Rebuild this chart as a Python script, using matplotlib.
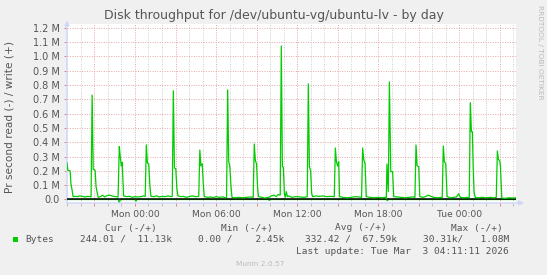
import numpy as np
import matplotlib
matplotlib.use("Agg")
import matplotlib.pyplot as plt
from matplotlib.patches import Rectangle
from matplotlib.ticker import FixedLocator

# hours relative to Mon 00:00, write throughput in MB/s (positive side)
write_t = [-5.03, -4.97, -4.80, -4.74, -4.66, -4.58, -4.40, -4.25, -4.10, -3.90, -3.70, -3.50, -3.30, -3.25,
           -3.17, -3.09, -2.95, -2.88, -2.80, -2.72, -2.55, -2.40, -2.25, -2.05, -1.85, -1.60, -1.40, -1.25,
           -1.16, -1.09, -1.01, -0.95, -0.90, -0.84, -0.60, -0.40, -0.20, 0.00, 0.20, 0.45, 0.60, 0.76,
           0.84, 0.92, 1.02, 1.10, 1.18, 1.40, 1.60, 1.80, 2.00, 2.20, 2.45, 2.65, 2.76,
           2.84, 2.92, 3.02, 3.10, 3.18, 3.40, 3.60, 3.80, 4.00, 4.25, 4.50, 4.72,
           4.80, 4.88, 4.98, 5.05, 5.13, 5.40, 5.60, 5.80, 6.00, 6.25, 6.50, 6.70, 6.78,
           6.86, 6.94, 7.02, 7.10, 7.18, 7.40, 7.70, 8.00, 8.30, 8.55, 8.75,
           8.83, 8.91, 9.00, 9.07, 9.14, 9.40, 9.60, 9.90, 10.10, 10.30, 10.45, 10.60, 10.75,
           10.83, 10.91, 10.98, 11.06, 11.12, 11.20, 11.28, 11.40, 11.60, 11.90, 12.20, 12.50, 12.75,
           12.83, 12.91, 13.00, 13.08, 13.16, 13.40, 13.60, 13.90, 14.20, 14.50, 14.75,
           14.83, 14.91, 15.00, 15.08, 15.14, 15.40, 15.70, 16.00, 16.30, 16.55, 16.77,
           16.85, 16.93, 17.03, 17.12, 17.40, 17.70, 18.00, 18.30, 18.55, 18.60,
           18.65, 18.75, 18.83, 18.93, 19.07, 19.15, 19.40, 19.70, 20.00, 20.30, 20.55, 20.72,
           20.80, 20.88, 21.00, 21.08, 21.30, 21.50, 21.70, 21.85, 22.10, 22.40, 22.60, 22.74,
           22.82, 22.90, 23.00, 23.10, 23.35, 23.60, 23.80, 23.95, 24.08, 24.35, 24.55, 24.74,
           24.82, 24.90, 24.97, 25.03, 25.10, 25.18, 25.40, 25.70, 26.00, 26.30, 26.55, 26.74,
           26.82, 26.90, 27.00, 27.05, 27.15, 27.40, 27.70, 27.95, 28.20]
write_v = [0.255, 0.205, 0.200, 0.110, 0.070, 0.020, 0.022, 0.020, 0.025, 0.022, 0.018, 0.022, 0.020, 0.018,
           0.730, 0.210, 0.205, 0.090, 0.050, 0.015, 0.020, 0.030, 0.018, 0.028, 0.030, 0.022, 0.020, 0.018,
           0.370, 0.300, 0.235, 0.260, 0.150, 0.025, 0.020, 0.022, 0.015, 0.020, 0.018, 0.020, 0.025, 0.022,
           0.382, 0.255, 0.250, 0.100, 0.022, 0.020, 0.025, 0.018, 0.022, 0.020, 0.025, 0.020, 0.022,
           0.760, 0.220, 0.215, 0.080, 0.025, 0.020, 0.022, 0.015, 0.020, 0.025, 0.020, 0.022,
           0.346, 0.235, 0.250, 0.120, 0.020, 0.015, 0.018, 0.012, 0.020, 0.015, 0.018, 0.012, 0.015,
           0.766, 0.264, 0.230, 0.100, 0.015, 0.012, 0.015, 0.012, 0.015, 0.018, 0.015,
           0.388, 0.270, 0.250, 0.090, 0.020, 0.015, 0.010, 0.015, 0.025, 0.030, 0.020, 0.035, 0.030,
           1.073, 0.230, 0.225, 0.040, 0.015, 0.055, 0.020, 0.025, 0.015, 0.020, 0.018, 0.015, 0.020,
           0.808, 0.230, 0.200, 0.040, 0.020, 0.025, 0.022, 0.025, 0.020, 0.022, 0.020,
           0.360, 0.264, 0.234, 0.264, 0.020, 0.015, 0.012, 0.015, 0.020, 0.018, 0.015,
           0.360, 0.280, 0.250, 0.020, 0.015, 0.012, 0.015, 0.012, 0.015, 0.005,
           0.248, 0.055, 0.822, 0.195, 0.195, 0.020, 0.018, 0.015, 0.012, 0.015, 0.018, 0.015,
           0.381, 0.236, 0.230, 0.020, 0.015, 0.020, 0.030, 0.025, 0.015, 0.012, 0.015, 0.012,
           0.374, 0.264, 0.250, 0.020, 0.012, 0.015, 0.018, 0.040, 0.015, 0.012, 0.015, 0.012,
           0.677, 0.474, 0.474, 0.230, 0.050, 0.015, 0.012, 0.015, 0.012, 0.015, 0.012, 0.015,
           0.339, 0.280, 0.270, 0.230, 0.010, 0.008, 0.012, 0.010, 0.012]

# read throughput (drawn below zero)
read_t = [-5.03, -1.24, -1.16, -1.08, -0.01, 0.07, 0.15, 9.86, 9.94, 10.02, 18.60, 18.68, 18.76, 28.20]
read_v = [0, 0, 0.022, 0, 0, 0.012, 0, 0, 0.006, 0, 0, 0.008, 0, 0]

label_hours = [0, 6, 12, 18, 24]
label_text = ["Mon 00:00", "Mon 06:00", "Mon 12:00", "Mon 18:00", "Tue 00:00"]
y_ticks = [0.0, 0.1, 0.2, 0.3, 0.4, 0.5, 0.6, 0.7, 0.8, 0.9, 1.0, 1.1, 1.2]

legend_head = ["Cur (-/+)", "Min (-/+)", "Avg (-/+)", "Max (-/+)"]
legend_vals = ["244.01 /  11.13k", "0.00 /    2.45k", "332.42 /  67.59k", "30.31k/   1.08M"]

W, H = 547, 275
def fx(x): return x / W
def fy(y): return 1 - y / H

font_c = "#555555"
axis_c = "#cfd6f8"
mgrid_c = "#e6a6a6"
grid_c = "#cccccc"

fig = plt.figure(figsize=(W / 100, H / 100), dpi=100)
fig.patch.set_facecolor("#f0f0f0")
ax = fig.add_axes([fx(67), fy(203), fx(516) - fx(67), fy(24) - fy(203)])
ax.set_facecolor("white")
ax.set_xlim(-5.03, 28.2)
ax.set_ylim(-0.0245, 1.227)
for s in ax.spines.values():
    s.set_visible(False)

# grid
for h in range(-5, 29):
    if h % 3 == 0:
        ax.axvline(h, color=mgrid_c, lw=0.7, ls=(0, (1, 1.5)), zorder=1)
    else:
        ax.axvline(h, color=grid_c, lw=0.7, ls=(0, (1, 1.5)), zorder=1)
for v in y_ticks[1:]:
    ax.axhline(v, color=mgrid_c, lw=0.7, ls=(0, (1, 1.5)), zorder=1)

# data
ax.plot(read_t, -np.array(read_v), color="#00cc00", lw=0.9, zorder=3)
ax.axhline(0, color="black", lw=1.1, zorder=4)
ax.plot(write_t, write_v, color="#00cc00", lw=0.9, zorder=5)

# ticks
ax.xaxis.set_major_locator(FixedLocator(list(range(-3, 29, 3))))
ax.set_xticklabels([label_text[label_hours.index(h)] if h in label_hours else "" for h in range(-3, 29, 3)])
ax.xaxis.set_minor_locator(FixedLocator(list(range(-5, 29))))
ax.tick_params(axis="x", which="major", length=2.2, width=0.7, color="#e08080", pad=2.5,
               labelsize=6.6, labelcolor=font_c)
ax.tick_params(axis="x", which="minor", length=2.2, width=0.7, color="#bbbbbb")
ax.set_yticks(y_ticks)
ax.set_yticklabels(["0.0"] + ["%.1f M" % v for v in y_ticks[1:]])
ax.tick_params(axis="y", length=2, width=0.7, color="#e08080", pad=3, labelsize=7, labelcolor=font_c)

# axes with arrows
ax.annotate("", xy=(1.018, 0), xytext=(0, 0), xycoords="axes fraction",
            arrowprops=dict(arrowstyle="-|>", color=axis_c, lw=1, mutation_scale=7, shrinkA=0, shrinkB=0),
            annotation_clip=False)
ax.annotate("", xy=(0, 1.02), xytext=(0, 0), xycoords="axes fraction",
            arrowprops=dict(arrowstyle="-|>", color=axis_c, lw=1, mutation_scale=7, shrinkA=0, shrinkB=0),
            annotation_clip=False)

# texts
fig.text(fx(274), fy(15), "Disk throughput for /dev/ubuntu-vg/ubuntu-lv - by day",
         ha="center", va="center", fontsize=9, color=font_c)
fig.text(fx(10), fy(117), "Pr second read (-) / write (+)", rotation=90,
         ha="center", va="center", fontsize=7.6, color=font_c)
fig.text(fx(540), fy(5), "RRDTOOL / TOBI OETIKER", rotation=-90,
         ha="center", va="top", fontsize=5.3, color="#bbbbbb")

mono = "DejaVu Sans Mono"
head_right = [157, 273, 387, 503]
val_right = [172, 284, 397, 509]
for t, x in zip(legend_head, head_right):
    fig.text(fx(x), fy(228), t, ha="right", va="center", family=mono, fontsize=6.8, color=font_c)
fig.patches.append(Rectangle((fx(13), fy(242)), fx(5), fy(237) - fy(242), transform=fig.transFigure,
                             facecolor="#00cc00", edgecolor="none"))
fig.text(fx(25), fy(239.5), "Bytes", ha="left", va="center", family=mono, fontsize=6.8, color=font_c)
for t, x in zip(legend_vals, val_right):
    fig.text(fx(x), fy(239.5), t, ha="right", va="center", family=mono, fontsize=6.8, color=font_c)
fig.text(fx(509), fy(251.5), "Last update: Tue Mar  3 04:11:11 2026", ha="right", va="center",
         family=mono, fontsize=6.8, color=font_c)
fig.text(fx(260), fy(264.5), "Munin 2.0.57", ha="center", va="center", fontsize=5.3, color="#bbbbbb")

fig.savefig("out.png", dpi=100, facecolor=fig.get_facecolor())
